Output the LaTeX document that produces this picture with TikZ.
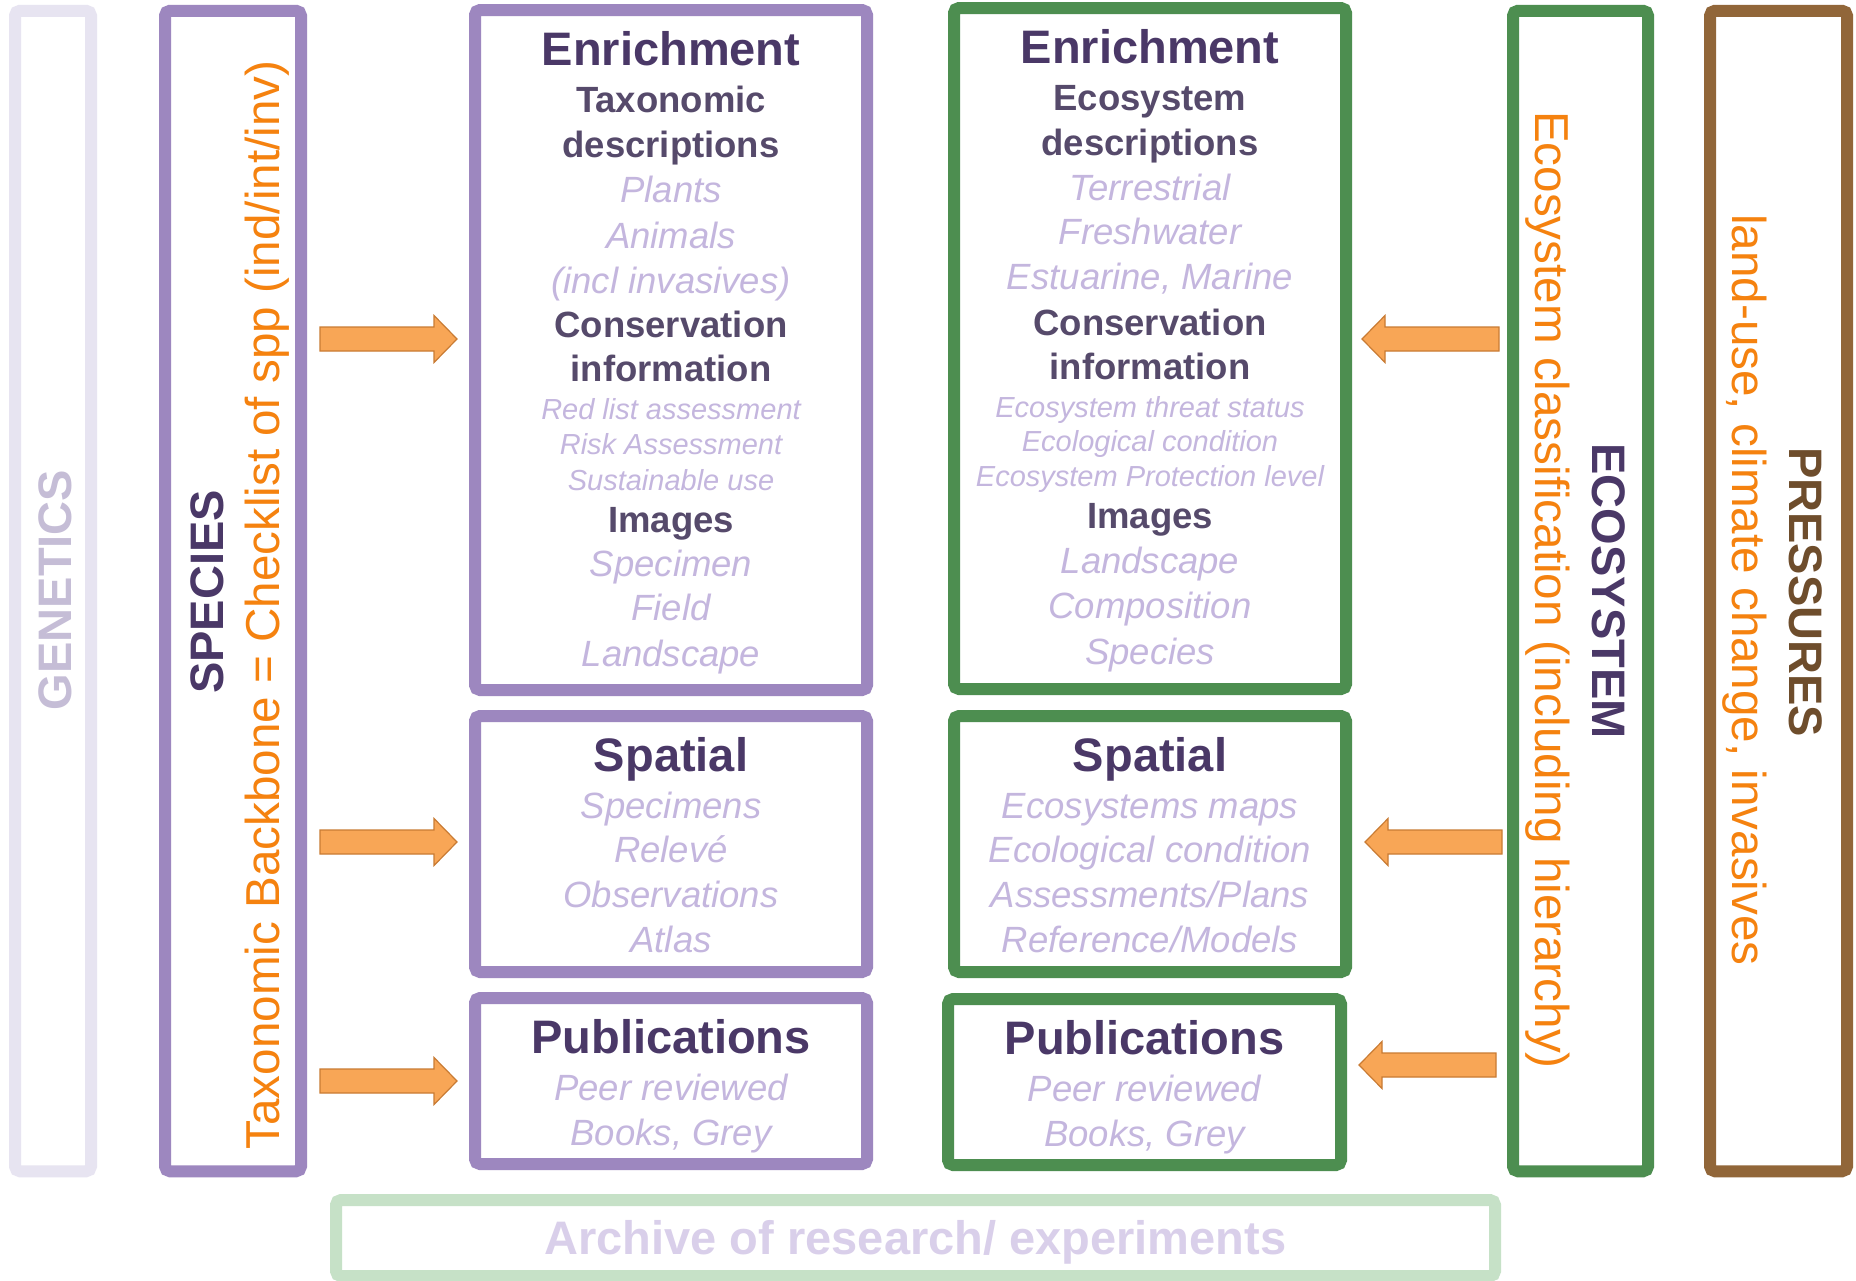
\documentclass[tikz,border=0pt]{standalone}
\usepackage{fontspec}
\setmainfont{Liberation Sans}
\usetikzlibrary{calc}
\definecolor{pstroke}{HTML}{9D87BF}
\definecolor{gstroke}{HTML}{4D8E50}
\definecolor{bstroke}{HTML}{916639}
\definecolor{genstroke}{HTML}{E7E4F1}
\definecolor{arcstroke}{HTML}{C6E1C7}
\definecolor{headc}{HTML}{4A3867}
\definecolor{subc}{HTML}{564A6B}
\definecolor{itc}{HTML}{C4B6DE}
\definecolor{orc}{HTML}{F5820F}
\definecolor{gentext}{HTML}{C5BDD6}
\definecolor{arctext}{HTML}{D9CFEA}
\definecolor{brtext}{HTML}{6E4D2C}
\definecolor{arfill}{HTML}{F8A656}
\definecolor{ardraw}{HTML}{C97B33}
\newcommand\barrow[3]{\draw[blockarrow] ($(#1)+(0,-12)$) -- ($(#2)+(#3,-12)$) -- ($(#2)+(#3,-23.5)$) -- (#2) -- ($(#2)+(#3,23.5)$) -- ($(#2)+(#3,12)$) -- ($(#1)+(0,12)$) -- cycle;}
\begin{document}
\begin{tikzpicture}[x=0.5pt,y=-0.5pt,
 frame/.style={draw=#1, line width=6pt, rounded corners=2.5pt, inner sep=0pt},
 hd/.style={anchor=base, inner sep=0pt, text=headc, font=\fontsize{23.5}{28}\selectfont\bfseries},
 subh/.style={anchor=base, inner sep=0pt, text=subc, font=\fontsize{18.25}{22}\selectfont\bfseries},
 itl/.style={anchor=base, inner sep=0pt, text=itc, font=\fontsize{18.25}{22}\selectfont\itshape},
 its/.style={anchor=base, inner sep=0pt, text=itc, font=\fontsize{14.5}{17}\selectfont\itshape},
 vbold/.style={anchor=base, inner sep=0pt, font=\fontsize{23.5}{28}\selectfont\bfseries},
 vreg/.style={anchor=base, inner sep=0pt, text=orc, font=\fontsize{23.8}{28}\selectfont},
 blockarrow/.style={fill=arfill, draw=ardraw, line width=0.6pt, line join=miter}
]
\path[use as bounding box, fill=white] (0,0) rectangle (1856,1280);

% frames
\node[frame=genstroke, minimum width=38pt, minimum height=580.25pt] (genbox) at (53,591) {};
\node[frame=pstroke, minimum width=68pt, minimum height=580.25pt] (spbox) at (233,591) {};
\node[frame=gstroke, minimum width=67.5pt, minimum height=580.25pt] (ecobox) at (1580.5,591) {};
\node[frame=bstroke, minimum width=68.5pt, minimum height=580.25pt] (prbox) at (1778.5,591) {};
\node[frame=arcstroke, minimum width=579.5pt, minimum height=38pt] (arcbox) at (915.5,1238) {};

\node[frame=pstroke, minimum width=196pt, minimum height=340pt] (penr) at (671,350) {};
\node[frame=pstroke, minimum width=196pt, minimum height=128pt] (pspa) at (671,844) {};
\node[frame=pstroke, minimum width=196pt, minimum height=83pt] (ppub) at (671,1081) {};
\node[frame=gstroke, minimum width=196pt, minimum height=340.5pt] (genr) at (1150,348.5) {};
\node[frame=gstroke, minimum width=196pt, minimum height=128pt] (gspa) at (1150,844) {};
\node[frame=gstroke, minimum width=196.5pt, minimum height=83pt] (gpub) at (1144.5,1082) {};

% vertical texts
\node[vbold, text=gentext, rotate=90] (gent) at (71,590) {GENETICS};
\node[vbold, text=headc, rotate=90] (spt) at (223,592) {SPECIES};
\node[vreg, rotate=90] (spo) at (279,605) {Taxonomic Backbone = Checklist of spp (ind/int/inv)};
\node[vbold, text=headc, rotate=-90] (ecot) at (1592,591) {ECOSYSTEM};
\node[vreg, rotate=-90] (ecoo) at (1535,590) {Ecosystem classification (including hierarchy)};
\node[vbold, text=brtext, rotate=-90] (prt) at (1789,592) {PRESSURES};
\node[vreg, rotate=-90] (pro) at (1732,590) {land-use, climate change, invasives};

% purple enrichment
\node[hd] (pe1) at (671,65) {Enrichment};
\node[subh] (pe2) at (671,112) {Taxonomic};
\node[subh] (pe3) at (671,157) {descriptions};
\node[itl] (pe4) at (671,202) {Plants};
\node[itl] (pe5) at (671,248) {Animals};
\node[itl] (pe6) at (671,293) {(incl invasives)};
\node[subh] (pe7) at (671,337) {Conservation};
\node[subh] (pe8) at (671,381) {information};
\node[its] (pe9) at (671,419) {Red list assessment};
\node[its] (pe10) at (671,454) {Risk Assessment};
\node[its] (pe11) at (671,490) {Sustainable use};
\node[subh] (pe12) at (671,532) {Images};
\node[itl] (pe13) at (671,576) {Specimen};
\node[itl] (pe14) at (671,620) {Field};
\node[itl] (pe15) at (671,666) {Landscape};

% green enrichment
\node[hd] (ge1) at (1150,63) {Enrichment};
\node[subh] (ge2) at (1150,110) {Ecosystem};
\node[subh] (ge3) at (1150,155) {descriptions};
\node[itl] (ge4) at (1150,200) {Terrestrial};
\node[itl] (ge5) at (1150,244) {Freshwater};
\node[itl] (ge6) at (1150,289) {Estuarine, Marine};
\node[subh] (ge7) at (1150,335) {Conservation};
\node[subh] (ge8) at (1150,379) {information};
\node[its] (ge9) at (1150,417) {Ecosystem threat status};
\node[its] (ge10) at (1150,451) {Ecological condition};
\node[its] (ge11) at (1150,486) {Ecosystem Protection level};
\node[subh] (ge12) at (1150,528) {Images};
\node[itl] (ge13) at (1150,573) {Landscape};
\node[itl] (ge14) at (1150,618) {Composition};
\node[itl] (ge15) at (1150,664) {Species};

% spatial
\node[hd] (ps1) at (671,771) {Spatial};
\node[itl] (ps2) at (671,818) {Specimens};
\node[itl] (ps3) at (671,862) {Relevé};
\node[itl] (ps4) at (671,907) {Observations};
\node[itl] (ps5) at (671,952) {Atlas};
\node[hd] (gs1) at (1150,771) {Spatial};
\node[itl] (gs2) at (1150,818) {Ecosystems maps};
\node[itl] (gs3) at (1150,862) {Ecological condition};
\node[itl] (gs4) at (1150,907) {Assessments/Plans};
\node[itl] (gs5) at (1150,952) {Reference/Models};

% publications
\node[hd] (pp1) at (671,1053) {Publications};
\node[itl] (pp2) at (671,1100) {Peer reviewed};
\node[itl] (pp3) at (671,1145) {Books, Grey};
\node[hd] (gp1) at (1144.5,1054) {Publications};
\node[itl] (gp2) at (1144.5,1101) {Peer reviewed};
\node[itl] (gp3) at (1144.5,1146) {Books, Grey};

% archive
\node[vbold, text=arctext] (arct) at (915.5,1254) {Archive of research/ experiments};

% arrows
\coordinate (a1t) at (320,339); \coordinate (a1h) at (457,339);
\coordinate (a2t) at (320,842); \coordinate (a2h) at (457,842);
\coordinate (a3t) at (320,1081); \coordinate (a3h) at (457,1081);
\coordinate (b1t) at (1499,339); \coordinate (b1h) at (1362,339);
\coordinate (b2t) at (1502,842); \coordinate (b2h) at (1365,842);
\coordinate (b3t) at (1496,1065); \coordinate (b3h) at (1359,1065);
\barrow{a1t}{a1h}{-23}
\barrow{a2t}{a2h}{-23}
\barrow{a3t}{a3h}{-23}
\barrow{b1t}{b1h}{23}
\barrow{b2t}{b2h}{23}
\barrow{b3t}{b3h}{23}
\end{tikzpicture}
\end{document}
